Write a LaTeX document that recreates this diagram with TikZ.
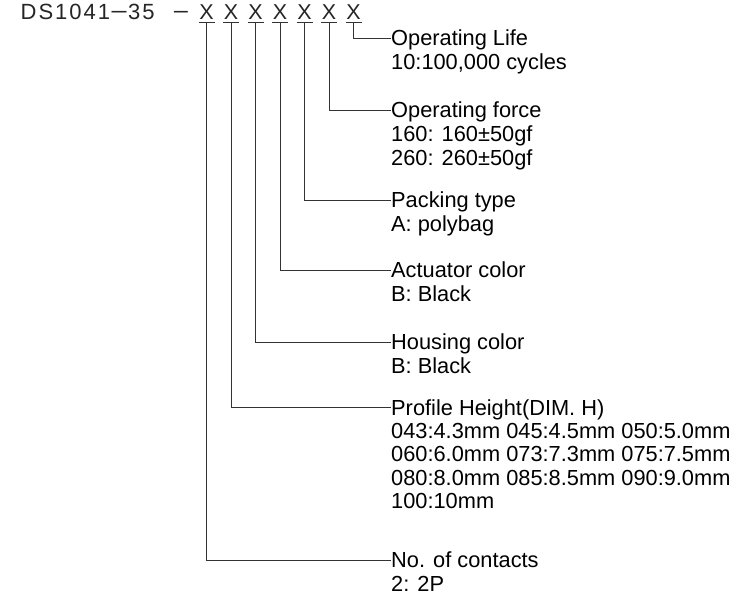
\documentclass[tikz,border=0pt]{standalone}
\usepackage{fontspec}
\setmainfont{Liberation Sans}
\newfontfamily\titlefont[LetterSpace=9]{Liberation Sans}
\begin{document}
\begin{tikzpicture}[x=1pt,y=-1pt,
  lab/.style={anchor=base west,inner sep=0pt,font=\fontsize{21.8}{24}\selectfont,text=black},
  ttl/.style={inner sep=0pt,font=\titlefont\fontsize{22}{24}\selectfont,text=black!85},
  xmark/.style={anchor=base,inner sep=0pt,font=\fontsize{21.5}{24}\selectfont,text=black!85},
  lead/.style={draw=black!80,line width=0.9pt}]
\useasboundingbox[fill=white] (0,0) rectangle (753,604);

\node[ttl,anchor=base west] (title) at (20.5,19.3) {DS1041\scalebox{1.4}[1]{−}35};
\node[ttl,anchor=base] (dash) at (181,19.3) {\scalebox{1.3}[1]{−}};
\foreach \i/\x in {1/206.5,2/231,3/255.5,4/280,5/304.5,6/329,7/353.5}{
  \node[xmark] (x\i) at (\x,19.3) {X};
  \draw[lead] ([xshift=-8pt,yshift=-3pt]x\i.south) -- ([xshift=8pt,yshift=-3pt]x\i.south);
}

% labels
\node[lab] (lifeA) at (391,46) {Operating Life};
\node[lab] (lifeB) at (391,70) {10:100,000 cycles};

\node[lab] (forA) at (391,117.5) {Operating force};
\node[lab] (forB) at (391,141.5) {160: 160±50gf};
\node[lab] (forC) at (391,165.5) {260: 260±50gf};

\node[lab] (pakA) at (391,208) {Packing type};
\node[lab] (pakB) at (391,232) {A: polybag};

\node[lab] (actA) at (391,277.5) {Actuator color};
\node[lab] (actB) at (391,301.5) {B: Black};

\node[lab] (houA) at (391,349.5) {Housing color};
\node[lab] (houB) at (391,373.5) {B: Black};

\node[lab] (proA) at (391,415) {Profile Height(DIM. H)};
\node[lab] (proB) at (391,438.4) {043:4.3mm 045:4.5mm 050:5.0mm};
\node[lab] (proC) at (391,461.8) {060:6.0mm 073:7.3mm 075:7.5mm};
\node[lab] (proD) at (391,485.2) {080:8.0mm 085:8.5mm 090:9.0mm};
\node[lab] (proE) at (391,508.6) {100:10mm};

\node[lab] (conA) at (391,567.5) {No. of contacts};
\node[lab] (conB) at (391,591.5) {2: 2P};

% leaders
\draw[lead] ([yshift=-3pt]x7.south) |- ([yshift=7.5pt]lifeA.base west);
\draw[lead] ([yshift=-3pt]x6.south) |- ([yshift=7.5pt]forA.base west);
\draw[lead] ([yshift=-3pt]x5.south) |- ([yshift=7.5pt]pakA.base west);
\draw[lead] ([yshift=-3pt]x4.south) |- ([yshift=7.5pt]actA.base west);
\draw[lead] ([yshift=-3pt]x3.south) |- ([yshift=7.5pt]houA.base west);
\draw[lead] ([yshift=-3pt]x2.south) |- ([yshift=7.5pt]proA.base west);
\draw[lead] ([yshift=-3pt]x1.south) |- ([yshift=7.5pt]conA.base west);
\end{tikzpicture}
\end{document}
